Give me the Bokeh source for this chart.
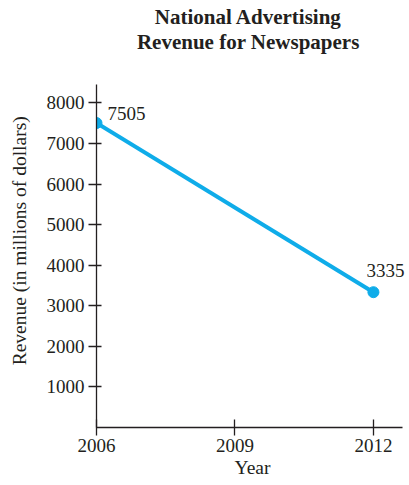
from bokeh.plotting import figure
from bokeh.models import Range1d, FixedTicker
from bokeh.core.properties import value
from bokeh.embed import file_html
from bokeh.resources import INLINE

years = [2006, 2012]
revenue = [7505, 3335]
value_labels = ["7505", "3335"]
x_ticks = [2006, 2009, 2012]
y_ticks = [1000, 2000, 3000, 4000, 5000, 6000, 7000, 8000]
title_lines = ["National Advertising", "Revenue for Newspapers"]

FONT = "Liberation Serif"
INK = "#231F20"
BLUE = "#0FACE9"

Y_AXIS_TOP = 8445      # where the drawn y axis ends
Y_VIEW_TOP = 10525     # frame extends above the axis to hold the title
X_AXIS_END = 2012.63   # where the drawn x axis ends
X_VIEW_END = 2012.76   # frame extends a bit further so the 3335 label is not clipped

p = figure(width=409, height=485, output_backend="svg", toolbar_location=None, title=None,
           x_range=Range1d(2006, X_VIEW_END), y_range=Range1d(0, Y_VIEW_TOP),
           min_border_left=96, min_border_right=1, min_border_top=0, min_border_bottom=58)
p.outline_line_color = None
p.xgrid.visible = False
p.ygrid.visible = False

for ax in (p.xaxis[0], p.yaxis[0]):
    ax.axis_line_color = INK
    ax.axis_line_width = 1.3
    ax.major_tick_line_color = INK
    ax.major_tick_line_width = 1.3
    ax.major_tick_out = 8
    ax.minor_tick_line_color = None
    ax.major_label_text_font = FONT
    ax.major_label_text_font_size = "19px"
    ax.major_label_text_color = INK
    ax.axis_label_text_font = FONT
    ax.axis_label_text_font_size = "19.5px"
    ax.axis_label_text_font_style = "normal"
    ax.axis_label_text_color = INK

p.yaxis.bounds = (0, Y_AXIS_TOP)
p.xaxis.bounds = (2006, X_AXIS_END)
p.xaxis.major_tick_in = 8
p.yaxis.major_tick_in = 5
p.xaxis.ticker = FixedTicker(ticks=x_ticks)
p.yaxis.ticker = FixedTicker(ticks=y_ticks)
p.xaxis.axis_label = "Year"
p.yaxis.axis_label = "Revenue (in millions of dollars)" + "\u00a0" * 11
p.xaxis.major_label_standoff = 3
p.yaxis.major_label_standoff = 4
p.xaxis.axis_label_standoff = 2
p.yaxis.axis_label_standoff = 14

p.line(years, revenue, line_color=BLUE, line_width=4)
p.scatter(years, revenue, size=11, fill_color=BLUE, line_color=BLUE)

p.text([years[0]], [revenue[0]], text=[value_labels[0]], x_offset=11, y_offset=-10,
       text_font=value(FONT), text_font_size="19px", text_color=INK,
       text_align="left", text_baseline="middle")
p.text([years[1]], [revenue[1]], text=[value_labels[1]], x_offset=-7, y_offset=-22,
       text_font=value(FONT), text_font_size="19px", text_color=INK,
       text_align="left", text_baseline="middle")

title_x = 2009.29
title_y = [10106, 9514]
p.text([title_x, title_x], title_y, text=title_lines,
       text_font=value(FONT), text_font_size="21px", text_font_style="bold",
       text_color=INK, text_align="center", text_baseline="middle")

open("out.html", "w").write(file_html(p, INLINE))
